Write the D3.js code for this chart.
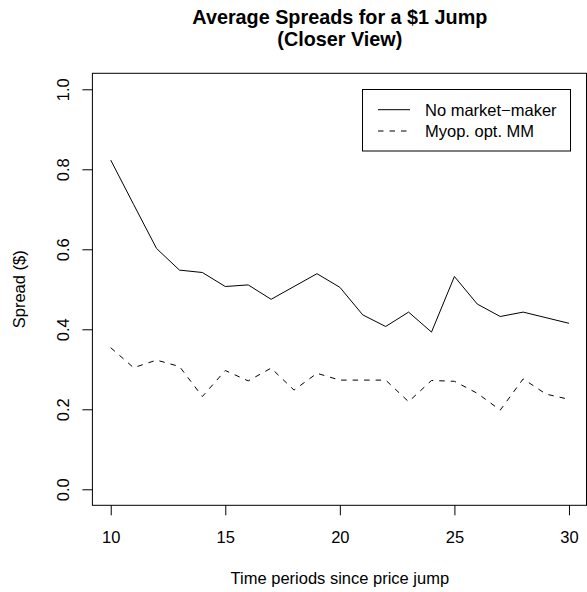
<!DOCTYPE html>
<html>
<head>
<meta charset="utf-8">
<script src="https://cdn.jsdelivr.net/npm/d3@7/dist/d3.min.js"></script>
<style>
  html, body { margin: 0; padding: 0; background: #fff; }
  svg { display: block; }
  text { font-family: "Liberation Sans", Arial, Helvetica, sans-serif; fill: #000; }
</style>
</head>
<body>
<script>
// Average spread after a $1 price jump, periods 10..30
const periods = [10, 11, 12, 13, 14, 15, 16, 17, 18, 19, 20, 21, 22, 23, 24, 25, 26, 27, 28, 29, 30];
const noMarketMaker = [0.823, 0.712, 0.602, 0.548, 0.542, 0.507, 0.511, 0.475, 0.507, 0.539, 0.505,
                       0.436, 0.407, 0.443, 0.393, 0.532, 0.463, 0.432, 0.443, 0.429, 0.415];
const myopicMM = [0.354, 0.304, 0.323, 0.307, 0.232, 0.297, 0.271, 0.303, 0.248, 0.290, 0.273,
                  0.273, 0.273, 0.219, 0.272, 0.270, 0.240, 0.198, 0.276, 0.238, 0.225];
const xTicks = [10, 15, 20, 25, 30];
const yTicks = [0.0, 0.2, 0.4, 0.6, 0.8, 1.0];
const seriesNames = ["No market\u2212maker", "Myop. opt. MM"];
const titleLines = ["Average Spreads for a $1 Jump", "(Closer View)"];
const xLabel = "Time periods since price jump";
const yLabel = "Spread ($)";

const W = 587, H = 592;
const plot = { left: 92.4, right: 587.3, top: 73.3, bottom: 505.3 };
const axisFont = 16.5, titleFont = 19.8;
const dash = "5.5,6";

const svg = d3.select("body").append("svg")
  .attr("width", W).attr("height", H);

// R-style 4% padding around the data range
const xMin = 10, xMax = 30, yMin = 0, yMax = 1;
const xPad = (xMax - xMin) * 0.04, yPad = (yMax - yMin) * 0.04;
const x = d3.scaleLinear().domain([xMin - xPad, xMax + xPad]).range([plot.left, plot.right]);
const y = d3.scaleLinear().domain([yMin - yPad, yMax + yPad]).range([plot.bottom, plot.top]);

// Series lines
const line = d3.line().x((d, i) => x(periods[i])).y(d => y(d));
svg.append("path").datum(noMarketMaker)
  .attr("d", line).attr("fill", "none").attr("stroke", "#000").attr("stroke-width", 1);
svg.append("path").datum(myopicMM)
  .attr("d", line).attr("fill", "none").attr("stroke", "#000").attr("stroke-width", 1)
  .attr("stroke-dasharray", dash);

// Plot frame
svg.append("rect")
  .attr("x", plot.left).attr("y", plot.top)
  .attr("width", 586.5 - plot.left).attr("height", plot.bottom - plot.top)
  .attr("fill", "none").attr("stroke", "#000").attr("stroke-width", 1);

// X axis
const gx = svg.append("g").attr("transform", `translate(0,${plot.bottom})`)
  .call(d3.axisBottom(x).tickValues(xTicks).tickSize(10).tickPadding(24).tickFormat(d3.format("d")));
gx.select(".domain").remove();
gx.selectAll("line").attr("stroke", "#000");
gx.selectAll("text").attr("font-size", axisFont).attr("dy", 0)
  .attr("y", 543 - plot.bottom).style("font-family", "Liberation Sans, Arial, sans-serif");

// Y axis with labels rotated parallel to the axis
const gy = svg.append("g").attr("transform", `translate(${plot.left},0)`)
  .call(d3.axisLeft(y).tickValues(yTicks).tickSize(10).tickFormat(d3.format(".1f")));
gy.select(".domain").remove();
gy.selectAll("line").attr("stroke", "#000");
gy.selectAll(".tick text")
  .attr("x", null).attr("dy", null)
  .attr("text-anchor", "middle")
  .attr("font-size", axisFont)
  .style("font-family", "Liberation Sans, Arial, sans-serif")
  .attr("transform", `translate(${68.5 - plot.left},0) rotate(-90)`);

// Axis titles
svg.append("text")
  .attr("x", (plot.left + plot.right) / 2).attr("y", 584)
  .attr("text-anchor", "middle").attr("font-size", axisFont)
  .text(xLabel);
svg.append("text")
  .attr("transform", `translate(25,${(plot.top + plot.bottom) / 2}) rotate(-90)`)
  .attr("text-anchor", "middle").attr("font-size", axisFont)
  .text(yLabel);

// Main title
svg.selectAll(".title").data(titleLines).enter().append("text")
  .attr("class", "title")
  .attr("x", (plot.left + plot.right) / 2)
  .attr("y", (d, i) => 24 + i * 21.5)
  .attr("text-anchor", "middle")
  .attr("font-size", titleFont).attr("font-weight", "bold")
  .text(d => d);

// Legend
const legend = svg.append("g");
legend.append("rect")
  .attr("x", 362.5).attr("y", 89.5).attr("width", 208).attr("height", 61.5)
  .attr("fill", "#fff").attr("stroke", "#000").attr("stroke-width", 1);
const rowY = [109.7, 131];
seriesNames.forEach((name, i) => {
  legend.append("line")
    .attr("x1", 378).attr("x2", 410).attr("y1", rowY[i]).attr("y2", rowY[i])
    .attr("stroke", "#000").attr("stroke-width", 1)
    .attr("stroke-dasharray", i === 1 ? dash : null);
  legend.append("text")
    .attr("x", 425).attr("y", rowY[i] + 6.2)
    .attr("font-size", axisFont)
    .text(name);
});
</script>
</body>
</html>
